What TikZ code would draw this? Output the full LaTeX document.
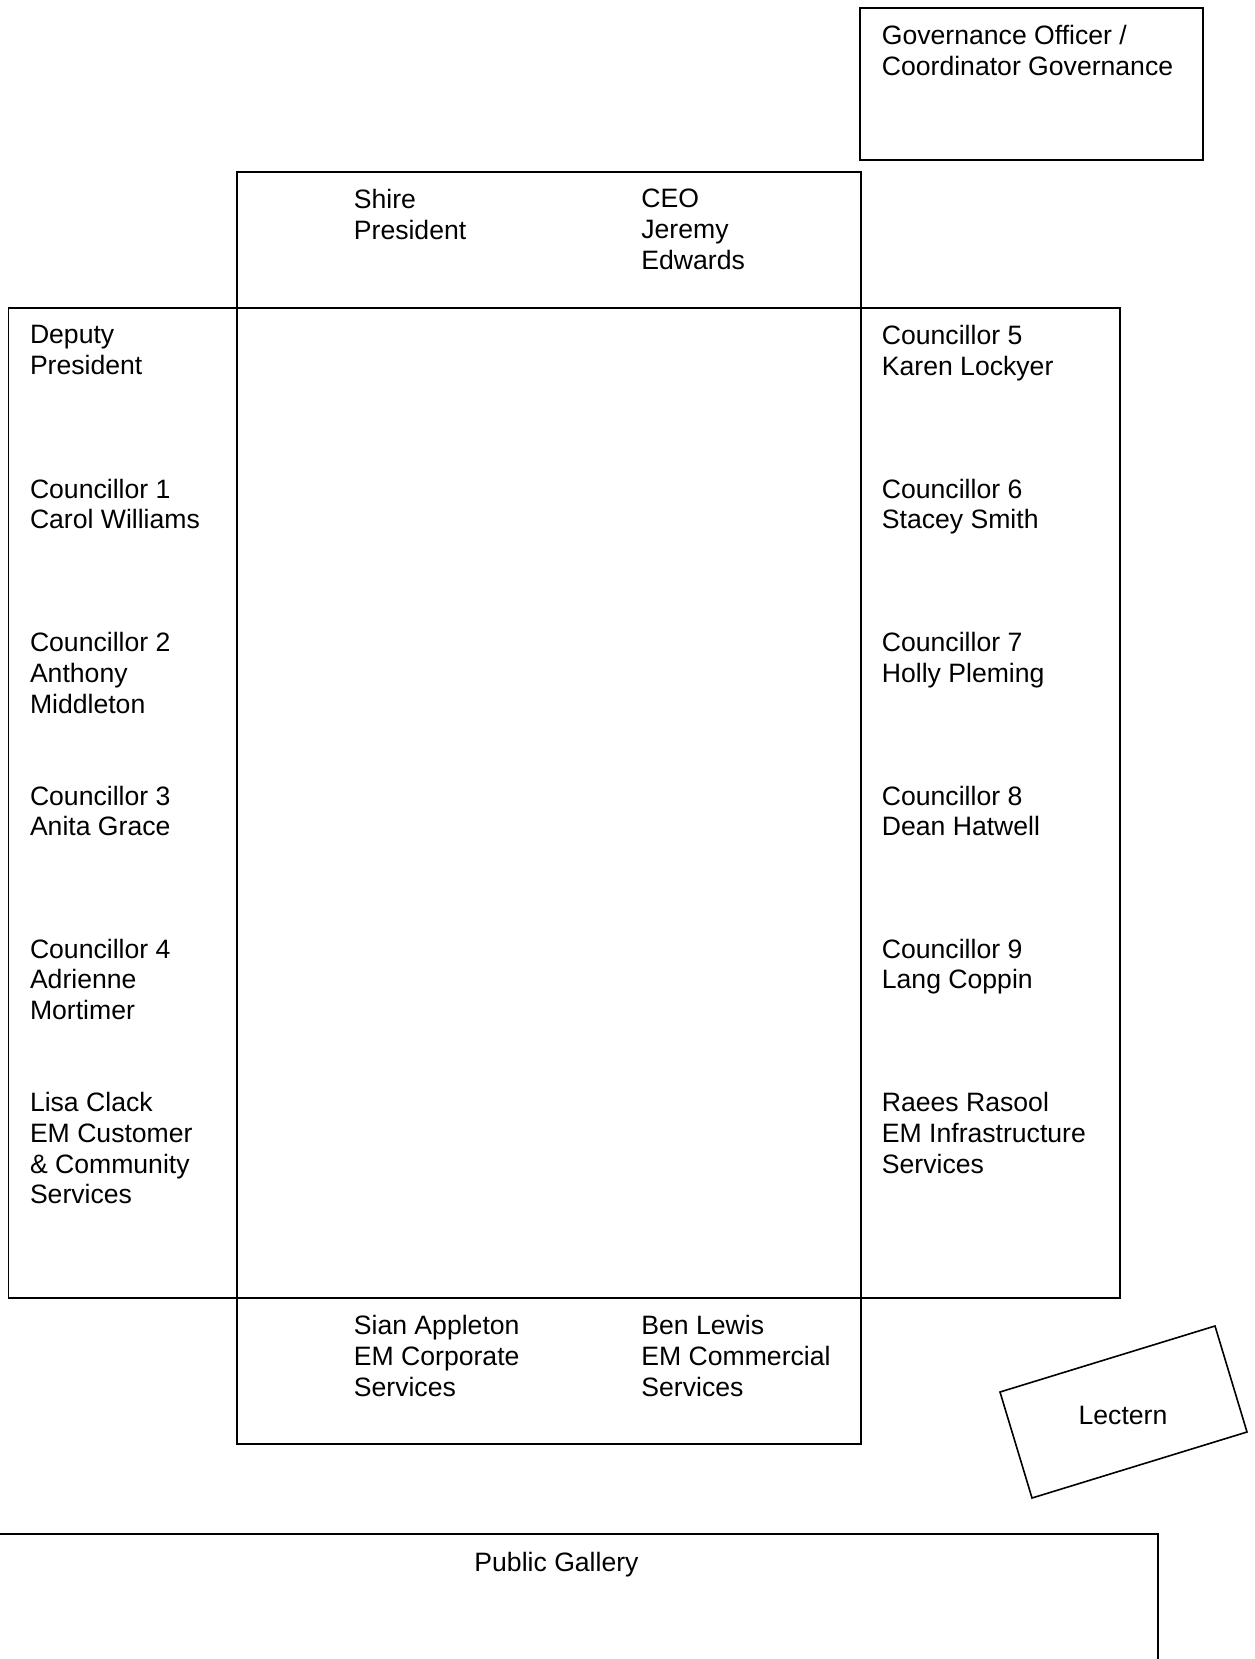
\documentclass[tikz,border=0pt]{standalone}
\usepackage{fontspec}
\setmainfont{Liberation Sans}
\begin{document}
\begin{tikzpicture}[x=0.5pt,y=-0.5pt,
  wall/.style={draw=black,line width=0.8pt},
  lbl/.style={anchor=north west,inner sep=0pt,align=left,font=\fontsize{13.3pt}{15.35pt}\selectfont},
  ctr/.style={inner sep=0pt,font=\fontsize{13.3pt}{15.35pt}\selectfont}]
\useasboundingbox (0,0) rectangle (1254,1659);
\clip (0,0) rectangle (1254,1659);
% shapes
\draw[wall] (860,8) rectangle (1203,160);
\draw[wall] (237,172) rectangle (861,308);
\draw[wall] (8.5,308) rectangle (1120,1298);
\draw[wall] (237,308) -- (237,1298);
\draw[wall] (861,308) -- (861,1298);
\draw[wall] (237,1298) rectangle (861,1444);
\draw[wall] (1000,1392) -- (1215,1326) -- (1247,1432) -- (1032,1498) -- cycle;
\draw[wall] (-5,1534) rectangle (1158,1700);
% texts
\node[lbl] (gov) at (881.5,25) {Governance Officer /\\Coordinator Governance};
\node[lbl] (pres) at (353.5,189) {Shire\\President};
\node[lbl] (ceo) at (641,189) {CEO\\Jeremy\\Edwards};
\node[lbl] (dep) at (29.6,325) {Deputy\\President};
\node[lbl] (c1) at (29.6,478.5) {Councillor 1\\Carol Williams};
\node[lbl] (c2) at (29.6,632) {Councillor 2\\Anthony\\Middleton};
\node[lbl] (c3) at (29.6,785.5) {Councillor 3\\Anita Grace};
\node[lbl] (c4) at (29.6,938.5) {Councillor 4\\Adrienne\\Mortimer};
\node[lbl] (lisa) at (29.6,1092) {Lisa Clack\\EM Customer\\\& Community\\Services};
\node[lbl] (c5) at (881.5,325) {Councillor 5\\Karen Lockyer};
\node[lbl] (c6) at (881.5,478.5) {Councillor 6\\Stacey Smith};
\node[lbl] (c7) at (881.5,632) {Councillor 7\\Holly Pleming};
\node[lbl] (c8) at (881.5,785.5) {Councillor 8\\Dean Hatwell};
\node[lbl] (c9) at (881.5,938.5) {Councillor 9\\Lang Coppin};
\node[lbl] (raees) at (881.5,1092) {Raees Rasool\\EM Infrastructure\\Services};
\node[lbl] (sian) at (353.5,1315) {Sian Appleton\\EM Corporate\\Services};
\node[lbl] (ben) at (641,1315) {Ben Lewis\\EM Commercial\\Services};
\node[ctr] (lect) at (1123,1415) {Lectern};
\node[ctr,anchor=north] (gal) at (556.5,1552) {Public Gallery};
\end{tikzpicture}
\end{document}
